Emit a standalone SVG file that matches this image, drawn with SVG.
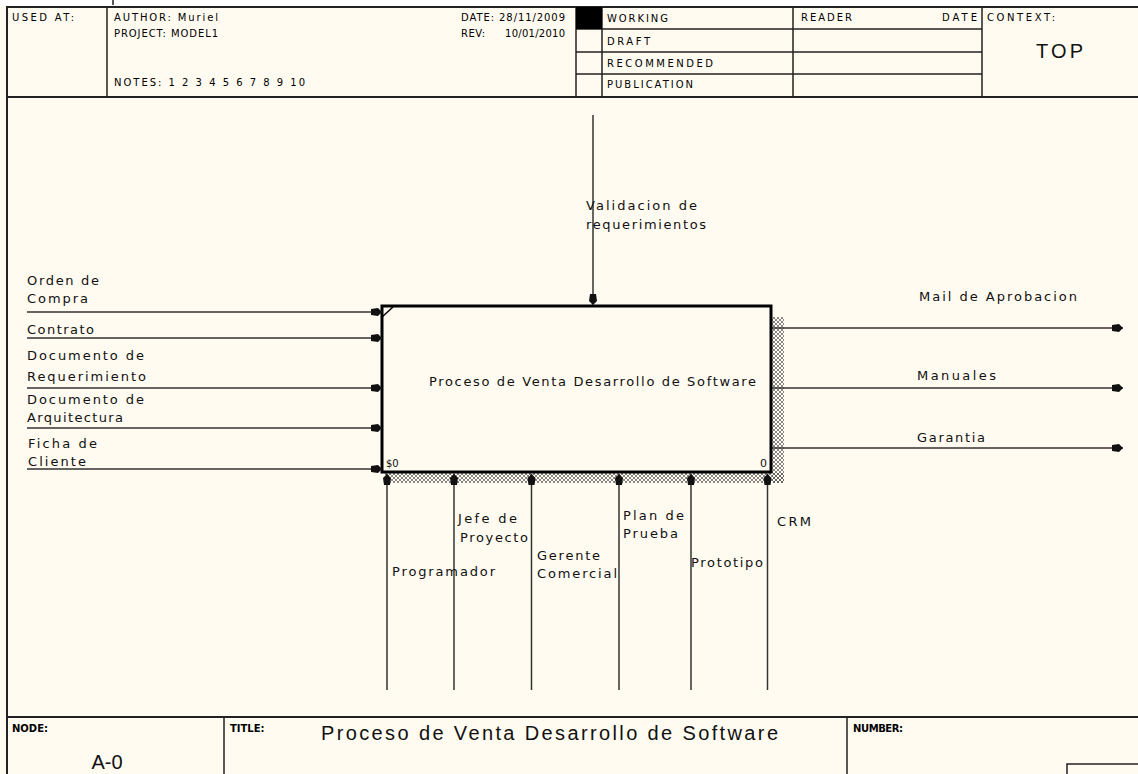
<svg xmlns="http://www.w3.org/2000/svg" width="1138" height="774" viewBox="0 0 1138 774">
<style>
text{font-family:"DejaVu Sans","Liberation Sans",Arial,sans-serif;fill:#111}
.h{font-size:10px;fill:#000}
.l{font-size:13px}
.big{font-family:"Liberation Sans",Arial,sans-serif;font-size:20px}
.fr{stroke:#222;stroke-width:2;fill:none}
.hl{stroke:#222;stroke-width:1.5;fill:none}
.c{stroke:#333;stroke-width:1.5;fill:none}
</style>
<defs>
<marker id="ah" viewBox="0 -5 11 10" refX="11" refY="0" markerWidth="11" markerHeight="10" markerUnits="userSpaceOnUse" orient="auto">
<path d="M0,-3 L7,-4 L11,0 L7,4 L0,3 Z" fill="#111"/>
</marker>
<pattern id="hatch" width="4" height="4" patternUnits="userSpaceOnUse">
<path d="M0,0 L4,4 M4,0 L0,4" stroke="#555" stroke-width="0.7"/>
</pattern>
</defs>
<rect x="0" y="0" width="1138" height="774" fill="#fffbf0"/>
<rect x="0" y="0" width="1138" height="6" fill="#ffffff"/>
<line x1="113" y1="0" x2="113" y2="5" stroke="#222" stroke-width="1.5"/>

<g id="frame">
<path class="fr" d="M7,774 V7 H1138"/>
<line class="fr" x1="7" y1="97" x2="1138" y2="97"/>
<line class="fr" x1="7" y1="717" x2="1138" y2="717"/>
</g>

<g id="header">
<line class="hl" x1="107" y1="7" x2="107" y2="97"/>
<line class="hl" x1="576" y1="7" x2="576" y2="97"/>
<line class="hl" x1="602" y1="7" x2="602" y2="97"/>
<line class="hl" x1="793" y1="7" x2="793" y2="97"/>
<line class="hl" x1="982" y1="7" x2="982" y2="97"/>
<line class="hl" x1="576" y1="29" x2="982" y2="29"/>
<line class="hl" x1="576" y1="52" x2="982" y2="52"/>
<line class="hl" x1="576" y1="74" x2="982" y2="74"/>
<rect x="576" y="7" width="26" height="22" fill="#000"/>
<text class="h" x="12" y="21" textLength="62" lengthAdjust="spacing">USED AT:</text>
<text class="h" x="114" y="21" textLength="104" lengthAdjust="spacing">AUTHOR: Muriel</text>
<text class="h" x="114" y="37" textLength="104" lengthAdjust="spacing">PROJECT: MODEL1</text>
<text class="h" x="114" y="85.5" textLength="191" lengthAdjust="spacing">NOTES: 1 2 3 4 5 6 7 8 9 10</text>
<text class="h" x="461" y="21" textLength="104" lengthAdjust="spacing">DATE: 28/11/2009</text>
<text class="h" x="461" y="37" textLength="24" lengthAdjust="spacing">REV:</text>
<text class="h" x="505" y="37" textLength="60" lengthAdjust="spacing">10/01/2010</text>
<text class="h" x="607" y="22" textLength="61" lengthAdjust="spacing">WORKING</text>
<text class="h" x="607" y="44.5" textLength="43" lengthAdjust="spacing">DRAFT</text>
<text class="h" x="607" y="66.5" textLength="106" lengthAdjust="spacing">RECOMMENDED</text>
<text class="h" x="607" y="88" textLength="86" lengthAdjust="spacing">PUBLICATION</text>
<text class="h" x="801" y="21" textLength="51" lengthAdjust="spacing">READER</text>
<text class="h" x="942" y="21" textLength="35" lengthAdjust="spacing">DATE</text>
<text class="h" x="987" y="21" textLength="68" lengthAdjust="spacing">CONTEXT:</text>
<text class="big" x="1036" y="58" textLength="47" lengthAdjust="spacing">TOP</text>
</g>

<g id="footer">
<line class="hl" x1="224" y1="717" x2="224" y2="774"/>
<line class="hl" x1="847" y1="717" x2="847" y2="774"/>
<rect x="1067" y="764" width="80" height="20" class="hl"/>
<text class="h" x="12" y="732" font-weight="bold">NODE:</text>
<text class="h" x="230" y="732" font-weight="bold">TITLE:</text>
<text class="h" x="853" y="732" font-weight="bold" textLength="50" lengthAdjust="spacing">NUMBER:</text>
<text class="big" x="321" y="740" textLength="457" lengthAdjust="spacing">Proceso de Venta Desarrollo de Software</text>
<text class="big" x="107" y="769" text-anchor="middle">A-0</text>
</g>

<g id="node-A0">
<rect x="385" y="473" width="399" height="10" fill="url(#hatch)"/>
<rect x="772" y="317" width="12" height="166" fill="url(#hatch)"/>
<rect x="382" y="306" width="389" height="166" fill="none" stroke="#000" stroke-width="3"/>
<line x1="382" y1="317" x2="393" y2="307" stroke="#000" stroke-width="1.5"/>
<text class="l" x="429" y="386" textLength="327" lengthAdjust="spacing">Proceso de Venta Desarrollo de Software</text>
<text x="386" y="467" font-size="10">$0</text>
<text x="760" y="467" font-size="11">0</text>
</g>

<g id="connectors">
<path class="c" d="M27,312 H382" marker-end="url(#ah)"/>
<path class="c" d="M27,338 H382" marker-end="url(#ah)"/>
<path class="c" d="M27,388 H382" marker-end="url(#ah)"/>
<path class="c" d="M27,428 H382" marker-end="url(#ah)"/>
<path class="c" d="M27,469 H382" marker-end="url(#ah)"/>
<path class="c" d="M593,115 V305" marker-end="url(#ah)"/>
<path class="c" d="M772,328 H1123" marker-end="url(#ah)"/>
<path class="c" d="M772,388 H1123" marker-end="url(#ah)"/>
<path class="c" d="M772,448 H1123" marker-end="url(#ah)"/>
<path class="c" d="M387,690 V474" marker-end="url(#ah)"/>
<path class="c" d="M454,690 V474" marker-end="url(#ah)"/>
<path class="c" d="M531.5,690 V474" marker-end="url(#ah)"/>
<path class="c" d="M619,690 V474" marker-end="url(#ah)"/>
<path class="c" d="M691,690 V474" marker-end="url(#ah)"/>
<path class="c" d="M767.5,690 V474" marker-end="url(#ah)"/>
</g>

<g id="labels">
<text class="l" x="27" y="285" textLength="72" lengthAdjust="spacing">Orden de</text>
<text class="l" x="27" y="303" textLength="61" lengthAdjust="spacing">Compra</text>
<text class="l" x="27" y="334" textLength="67" lengthAdjust="spacing">Contrato</text>
<text class="l" x="27" y="360" textLength="117" lengthAdjust="spacing">Documento de</text>
<text class="l" x="27" y="380.5" textLength="119" lengthAdjust="spacing">Requerimiento</text>
<text class="l" x="27" y="404" textLength="117" lengthAdjust="spacing">Documento de</text>
<text class="l" x="27" y="421.5" textLength="96" lengthAdjust="spacing">Arquitectura</text>
<text class="l" x="28" y="447.5" textLength="69" lengthAdjust="spacing">Ficha de</text>
<text class="l" x="28" y="465.5" textLength="58" lengthAdjust="spacing">Cliente</text>
<text class="l" x="586" y="209.5" textLength="111" lengthAdjust="spacing">Validacion de</text>
<text class="l" x="586" y="229" textLength="120" lengthAdjust="spacing">requerimientos</text>
<text class="l" x="919" y="301" textLength="158" lengthAdjust="spacing">Mail de Aprobacion</text>
<text class="l" x="917" y="380" textLength="79" lengthAdjust="spacing">Manuales</text>
<text class="l" x="917" y="442" textLength="68" lengthAdjust="spacing">Garantia</text>
<text class="l" x="392" y="576" textLength="103" lengthAdjust="spacing">Programador</text>
<text class="l" x="458" y="523" textLength="59" lengthAdjust="spacing">Jefe de</text>
<text class="l" x="460" y="542" textLength="68" lengthAdjust="spacing">Proyecto</text>
<text class="l" x="537" y="560" textLength="63" lengthAdjust="spacing">Gerente</text>
<text class="l" x="537" y="577.5" textLength="80" lengthAdjust="spacing">Comercial</text>
<text class="l" x="623" y="520" textLength="61" lengthAdjust="spacing">Plan de</text>
<text class="l" x="623" y="537.5" textLength="55" lengthAdjust="spacing">Prueba</text>
<text class="l" x="691" y="566.5" textLength="72" lengthAdjust="spacing">Prototipo</text>
<text class="l" x="777" y="526" textLength="34" lengthAdjust="spacing">CRM</text>
</g>
</svg>
